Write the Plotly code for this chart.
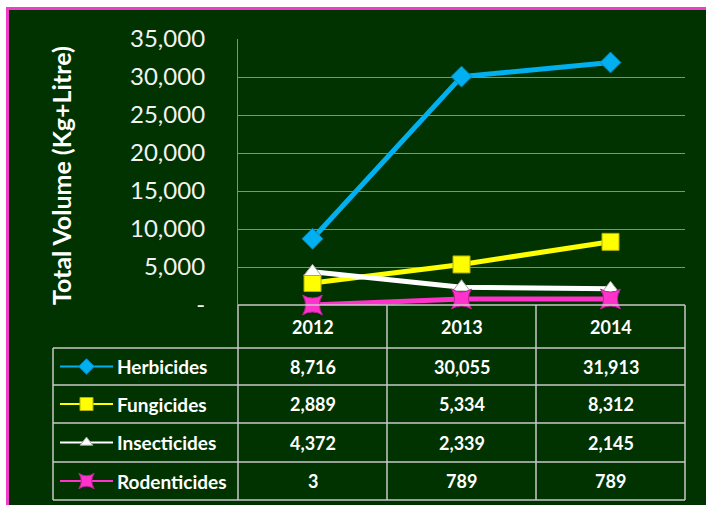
import plotly.graph_objects as go

years = ["2012", "2013", "2014"]
series_names = ["Herbicides", "Fungicides", "Insecticides", "Rodenticides"]
herbicides = [8716, 30055, 31913]
fungicides = [2889, 5334, 8312]
insecticides = [4372, 2339, 2145]
rodenticides = [3, 789, 789]
y_tickvals = [0, 5000, 10000, 15000, 20000, 25000, 30000, 35000]
y_ticktext = ["-", "5,000", "10,000", "15,000", "20,000", "25,000", "30,000", "35,000"]
y_title = "Total Volume (Kg+Litre)"

values = [herbicides, fungicides, insecticides, rodenticides]
colors = ["#00B0F0", "#FFFF00", "#FFFFFF", "#FF33CC"]
edge_colors = ["#0088C0", "#B0B000", "#A0A0A0", "#C0209A"]
symbols = ["diamond", "square", "triangle-up", "star-square"]
msizes = [16, 17, 15, 18]

W, H = 706, 505
BG = "#003300"
GRID = "#8A8A8A"
TBL = "#C8C8C8"
FONT = "Lato"

# layout in pixels
pl, pr, pt, pb = 238, 685, 39, 305
tbl_left = 53
row_lines = [305, 348, 385, 423, 462, 500]

def px(x):
    return x / W

def py(y):
    return 1 - y / H

fig = go.Figure()

for name, v, c, ec, s, ms in zip(series_names, values, colors, edge_colors, symbols, msizes):
    fig.add_trace(go.Scatter(
        x=years, y=v, mode="lines+markers", name=name,
        line=dict(color=c, width=5),
        marker=dict(symbol=s, size=ms, color=c, line=dict(color=ec, width=1)),
        xaxis="x", yaxis="y", showlegend=False, cliponaxis=False,
    ))

# legend keys in table (pixel-coordinate helper axes)
for i, (name, c, ec, s, ms) in enumerate(zip(series_names, colors, edge_colors, symbols, msizes)):
    cy = (row_lines[i + 1] + row_lines[i + 2]) / 2
    fig.add_trace(go.Scatter(
        x=[60, 113], y=[cy, cy], mode="lines", line=dict(color=c, width=2),
        xaxis="x2", yaxis="y2", showlegend=False, hoverinfo="skip",
    ))
    fig.add_trace(go.Scatter(
        x=[86.5], y=[cy], mode="markers",
        marker=dict(symbol=s, size=ms - 4, color=c, line=dict(color=ec, width=1)),
        xaxis="x2", yaxis="y2", showlegend=False, hoverinfo="skip",
    ))

shapes = []
shapes.append(dict(type="rect", xref="paper", yref="paper", x0=px(7.5), x1=px(W + 5), y0=py(H + 5), y1=py(8.5),
                   fillcolor=BG, line=dict(color="#F03CC8", width=3), layer="below"))

def hline(y, x0, x1):
    shapes.append(dict(type="line", xref="paper", yref="paper", x0=px(x0), x1=px(x1), y0=py(y), y1=py(y),
                       line=dict(color=TBL, width=1.5)))

def vline(x, y0, y1):
    shapes.append(dict(type="line", xref="paper", yref="paper", x0=px(x), x1=px(x), y0=py(y0), y1=py(y1),
                       line=dict(color=TBL, width=1.5)))

ncol = len(years)
cw = (pr - pl) / ncol
hline(row_lines[0], pl, pr)
for y in row_lines[1:]:
    hline(y, tbl_left, pr)
vline(tbl_left, row_lines[1], row_lines[-1])
for j in range(ncol + 1):
    vline(pl + j * cw, row_lines[0], row_lines[-1])

annotations = []
tfont = dict(family=FONT, size=18, color="white", weight="bold")
for j, yr in enumerate(years):
    cx = pl + (j + 0.5) * cw
    cy = (row_lines[0] + row_lines[1]) / 2
    annotations.append(dict(x=px(cx), y=py(cy), xref="paper", yref="paper", text=yr, showarrow=False,
                            font=tfont, xanchor="center", yanchor="middle"))
for i, (name, v) in enumerate(zip(series_names, values)):
    cy = (row_lines[i + 1] + row_lines[i + 2]) / 2
    annotations.append(dict(x=px(115), y=py(cy), xref="paper", yref="paper", text=name, showarrow=False,
                            font=dict(family=FONT, size=19, color="white", weight="bold"),
                            xanchor="left", yanchor="middle"))
    for j in range(ncol):
        cx = pl + (j + 0.5) * cw
        annotations.append(dict(x=px(cx), y=py(cy), xref="paper", yref="paper", text=f"{v[j]:,}",
                                showarrow=False, font=tfont, xanchor="center", yanchor="middle"))

annotations.append(dict(x=px(61), y=py(176), xref="paper", yref="paper", text=y_title, textangle=-90,
                        showarrow=False, font=dict(family=FONT, size=25, color="white", weight="bold"),
                        xanchor="center", yanchor="middle"))

fig.update_layout(
    template="none",
    width=W, height=H,
    margin=dict(l=0, r=0, t=0, b=0, pad=0, autoexpand=False),
    paper_bgcolor="white", plot_bgcolor="rgba(0,0,0,0)",
    shapes=shapes, annotations=annotations,
    xaxis=dict(domain=[px(pl), px(pr)], type="category", range=[-0.5, 2.5], showticklabels=False,
               showgrid=False, zeroline=False, showline=False, fixedrange=True, anchor="y", automargin=False),
    yaxis=dict(domain=[py(pb), py(pt)], range=[0, 35000], tickvals=y_tickvals, ticktext=y_ticktext,
               showgrid=True, gridcolor=GRID, gridwidth=1.2, zeroline=False, automargin=False,
               showline=True, linecolor=GRID, linewidth=1.2, ticks="", anchor="x", fixedrange=True,
               tickfont=dict(family=FONT, size=24, color="#F2F2F2"), ticklabelstandoff=27),
    xaxis2=dict(domain=[0, 1], range=[0, W], visible=False, anchor="y2", fixedrange=True, automargin=False),
    yaxis2=dict(domain=[0, 1], range=[H, 0], visible=False, anchor="x2", fixedrange=True, automargin=False),
    showlegend=False,
)

fig.write_html(
    "out.html",
    config={"displayModeBar": False},
    post_script="document.body.style.margin='0';document.body.style.padding='0';document.body.style.overflow='hidden';",
)
